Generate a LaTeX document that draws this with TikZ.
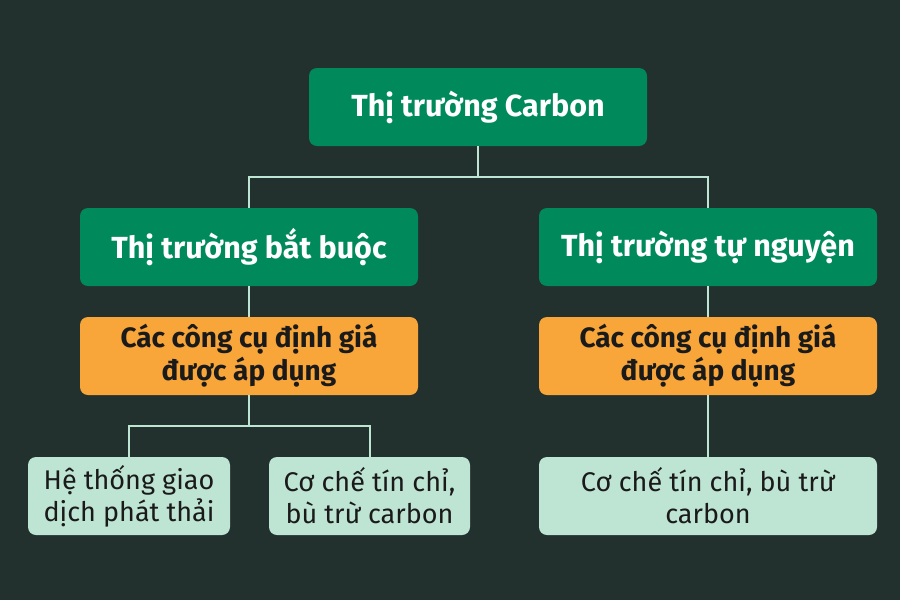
\documentclass[tikz,border=0pt]{standalone}
\usepackage{fontspec}
\setmainfont{Fira Sans}
\usetikzlibrary{positioning}
\definecolor{bgdark}{HTML}{22302E}
\definecolor{boxgreen}{HTML}{008A5C}
\definecolor{boxorange}{HTML}{F8A53A}
\definecolor{boxpale}{HTML}{BEE4D4}
\definecolor{txtdark}{HTML}{1A1A1A}

\begin{document}
\begin{tikzpicture}[x=1pt, y=-1pt,
    greenbox/.style={fill=boxgreen, rounded corners=8pt, minimum width=338pt, minimum height=78pt,
      text=white, font=\fontsize{30.5}{34}\selectfont\bfseries, inner sep=0pt},
    orangebox/.style={fill=boxorange, rounded corners=8pt, minimum width=338pt, minimum height=78pt,
      text=txtdark, font=\fontsize{28}{33}\selectfont\bfseries, align=center, inner sep=0pt},
    palebox/.style={fill=boxpale, rounded corners=8pt, minimum height=78pt,
      text=txtdark, font=\fontsize{27}{32}\selectfont, align=center, inner sep=0pt},
    link/.style={draw=boxpale, line width=2pt}]
  \fill[bgdark] (0,0) rectangle (900,600);
  \useasboundingbox (0,0) rectangle (900,600);
  % top level
  \node[greenbox] (market) at (478,107) {Thị trường Carbon};
  % market types
  \node[greenbox] (mandatory) at (249,247) {Thị trường bắt buộc};
  \node[greenbox] (voluntary) at (708,247) {Thị trường tự nguyện};
  % pricing tools
  \node[orangebox] (toolsA) at (249,356) {Các công cụ định giá\\được áp dụng};
  \node[orangebox] (toolsB) at (708,356) {Các công cụ định giá\\được áp dụng};
  % instruments
  \node[palebox, minimum width=202pt] (ets) at (129,496) {Hệ thống giao\\dịch phát thải};
  \node[palebox, minimum width=201pt] (creditA) at (369.5,496) {Cơ chế tín chỉ,\\bù trừ carbon};
  \node[palebox, minimum width=338pt] (creditB) at (708,496) {Cơ chế tín chỉ, bù trừ\\carbon};
  % connectors
  \coordinate (splitTop) at (478,177);
  \coordinate (splitLeft) at (249,426);
  \draw[link] (market.south) -- (splitTop) -| (mandatory.north);
  \draw[link] (splitTop) -| (voluntary.north);
  \draw[link] (mandatory) -- (toolsA);
  \draw[link] (voluntary) -- (toolsB);
  \draw[link] (toolsA.south) -- (splitLeft) -| (ets.north);
  \draw[link] (splitLeft) -| (creditA.north);
  \draw[link] (toolsB) -- (creditB);
\end{tikzpicture}
\end{document}
